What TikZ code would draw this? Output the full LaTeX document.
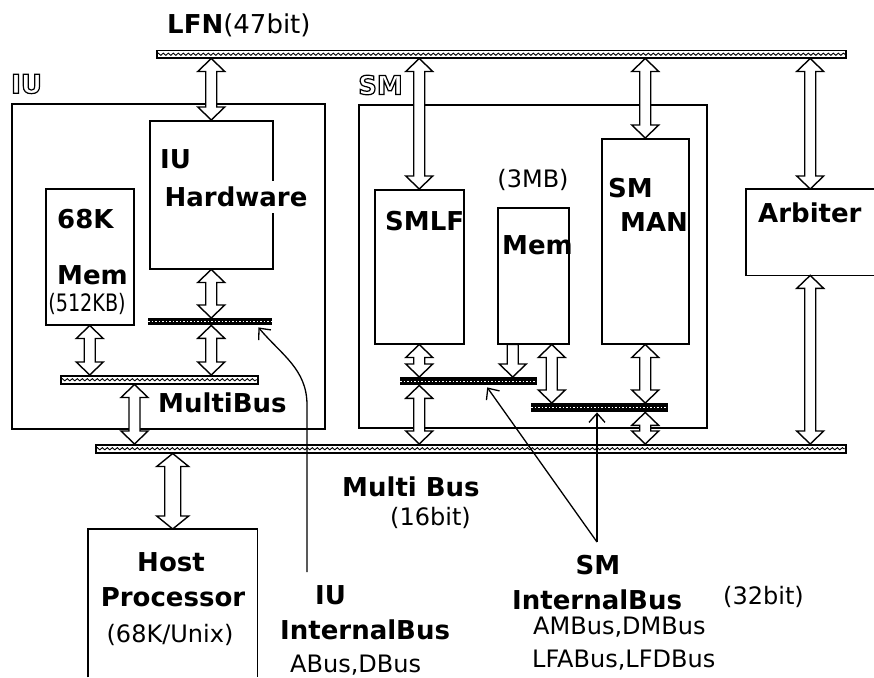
\documentclass[tikz,border=0pt]{standalone}
\usepackage{fontspec}
\setmainfont{DejaVu Sans}
\usetikzlibrary{arrows.meta,calc,decorations.pathmorphing}
\newcommand\outl[1]{\special{pdf:literal direct 1 Tr 1.2 w}#1\special{pdf:literal direct 0 Tr}}
\def\ahw{13.5pt}
\def\asw{5.5pt}
\def\ahl{13pt}
\tikzset{
  box/.style={draw, line width=1.5pt, anchor=north west, inner sep=0pt},
  frame/.style={anchor=north west, inner sep=0pt},
  bus/.style={draw, line width=1.5pt, fill=white, anchor=north west, inner sep=0pt,
    path picture={\draw[line width=0.9pt, decorate, decoration={snake, amplitude=1.1pt, segment length=5pt}]
      (path picture bounding box.west) -- (path picture bounding box.east);}},
  ibus/.style={fill=black, anchor=north west, inner sep=0pt,
    path picture={\draw[white, line width=1.3pt, dash pattern=on 1.3pt off 2.2pt]
      (path picture bounding box.west) -- (path picture bounding box.east);}},
  busarrow/.style={draw, fill=white, line width=1.4pt, to path={
    let \p1=(\tikztostart), \p2=(\tikztotarget) in
    (\x1,\y1) -- (\x1+\ahw,\y1-\ahl) -- (\x1+\asw,\y1-\ahl) -- (\x1+\asw,\y2+\ahl)
    -- (\x1+\ahw,\y2+\ahl) -- (\x1,\y2) -- (\x1-\ahw,\y2+\ahl) -- (\x1-\asw,\y2+\ahl)
    -- (\x1-\asw,\y1-\ahl) -- (\x1-\ahw,\y1-\ahl) -- cycle}},
  downarrow/.style={draw, fill=white, line width=1.4pt, to path={
    let \p1=(\tikztostart), \p2=(\tikztotarget) in
    (\x1-\asw,\y1) -- (\x1+\asw,\y1) -- (\x1+\asw,\y2+\ahl) -- (\x1+\ahw,\y2+\ahl)
    -- (\x1,\y2) -- (\x1-\ahw,\y2+\ahl) -- (\x1-\asw,\y2+\ahl) -- cycle}},
  wide/.style={/utils/exec={\def\ahw{16pt}\def\asw{8pt}}},
  pointer/.style={line width=1.3pt, -{Straight Barb[length=9pt, width=16pt]}},
  btxt/.style={font=\fontsize{26}{30}\selectfont\bfseries, inner sep=0pt},
  ntxt/.style={font=\fontsize{24}{28}\selectfont, inner sep=0pt},
}
\begin{document}
\begin{tikzpicture}[x=1pt, y=-1pt]
  \useasboundingbox (0,0) rectangle (874,677);

  % LFN bus
  \node[bus, minimum width=689pt, minimum height=7pt] (lfn) at (156,50) {};
  \node[btxt, anchor=west] (lfnlbl) at (167,25) {LFN\mdseries(47bit)};

  % IU board
  \node[box, minimum width=313pt, minimum height=325pt] (iu) at (11,103) {};
  \node[btxt, anchor=west] (iulbl) at (11,84) {\outl{IU}};
  \node[box, minimum width=123pt, minimum height=148pt] (hw) at (149,120) {};
  \node[btxt, anchor=west] (hwa) at (160,159) {IU};
  \node[btxt, fill=white, inner xsep=2pt, inner ysep=6pt] (hwb) at (236,197) {Hardware};
  \node[box, minimum width=88pt, minimum height=136pt] (mem68) at (45,188) {};
  \node[btxt, anchor=west] (mema) at (57,219) {68K};
  \node[btxt, anchor=west] (memb) at (57,275) {Mem};
  \node[ntxt] (memc) at (87,304) {\scalebox{0.8}[1]{(512KB)}};
  \node[ibus, minimum width=124pt, minimum height=7pt] (iubus) at (148,318) {};
  \node[bus, minimum width=197pt, minimum height=8pt] (iumb) at (60,375) {};
  \node[btxt, anchor=west] (iumblbl) at (158,403) {MultiBus};

  % SM board
  \node[box, minimum width=348pt, minimum height=323pt] (sm) at (358,104) {};
  \node[btxt, anchor=west] (smlbl) at (358,85) {\outl{SM}};
  \node[box, minimum width=89pt, minimum height=154pt] (smlf) at (374,189) {};
  \node[btxt, anchor=west] (smlftxt) at (385,221) {SMLF};
  \node[box, minimum width=71pt, minimum height=136pt] (mem3) at (497,207) {};
  \node[ntxt] (mem3a) at (533,180) {(3MB)};
  \node[btxt, anchor=west] (mem3b) at (502,245) {Mem};
  \node[box, minimum width=87pt, minimum height=205pt] (sman) at (601,138) {};
  \node[btxt, anchor=west] (smana) at (608,188) {SM};
  \node[btxt, anchor=west] (smanb) at (620,222) {MAN};
  \node[ibus, minimum width=137pt, minimum height=8pt] (smbus1) at (400,377) {};
  \node[ibus, minimum width=137pt, minimum height=9pt] (smbus2) at (531,403) {};

  % Arbiter
  \node[frame, minimum width=128pt, minimum height=86pt] (arb) at (746,189) {};
  \draw[line width=1.5pt] (arb.north east) -- (arb.north west) -- (arb.south west) -- (arb.south east);
  \node[btxt, anchor=west] (arbtxt) at (758,213) {Arbiter};

  % Multi Bus and host
  \node[bus, minimum width=750pt, minimum height=8pt] (mbus) at (95,444) {};
  \node[btxt, anchor=west] (mbuslbl) at (342,487) {Multi Bus};
  \node[ntxt, anchor=west] (mbuswd) at (390,518) {(16bit)};
  \node[frame, minimum width=169pt, minimum height=148pt] (host) at (88,529) {};
  \draw[line width=1.5pt] (host.south west) -- (host.north west) -- (host.north east) -- (host.south east);
  \node[btxt] (hosta) at (171,562) {Host};
  \node[btxt] (hostb) at (173,597) {Processor};
  \node[ntxt] (hostc) at (170,635) {(68K/Unix)};

  % bus arrows
  \draw[busarrow] (lfn.south -| hw.north) to (hw.north);
  \draw[busarrow] (hw.south) to (iubus.north);
  \draw[busarrow] (iubus.south -| hw.south) to (iumb.north);
  \draw[busarrow] (mem68.south) to (iumb.north);
  \draw[busarrow] (iumb.south -| mem68.east) to (mbus.north);
  \draw[busarrow, wide] (mbus.south -| host.north) to (host.north);
  \draw[busarrow] (lfn.south -| smlf.north) to (smlf.north);
  \draw[busarrow] (smlf.south) to (smbus1.north);
  \draw[busarrow] (smbus1.south -| smlf.south) to (mbus.north);
  \draw[downarrow] ([xshift=-20.5pt]mem3.south) to (smbus1.north);
  \draw[busarrow] ([xshift=18.5pt]mem3.south) to (smbus2.north);
  \draw[busarrow] (lfn.south -| sman.north) to (sman.north);
  \draw[busarrow] (sman.south) to (smbus2.north);
  \draw[busarrow] (smbus2.south -| sman.south) to (mbus.north);
  \draw[busarrow] (lfn.south -| arb.north) to (arb.north);
  \draw[busarrow] (arb.south) to (mbus.north);

  % internal bus labels
  \node[btxt, anchor=west] (iuila) at (315,595) {IU};
  \node[btxt, anchor=west] (iuilb) at (280,630) {InternalBus};
  \node[ntxt, anchor=west] (iuilc) at (290,665) {ABus,DBus};
  \node[btxt] (smila) at (598,565) {SM};
  \node[btxt, anchor=west] (smilb) at (512,600) {InternalBus};
  \node[ntxt, anchor=west] (smilw) at (723,597) {(32bit)};
  \node[ntxt, anchor=west] (smilc) at (533,627) {AMBus,DMBus};
  \node[ntxt, anchor=west] (smild) at (532,660) {LFABus,LFDBus};

  % pointers
  \coordinate (iutail) at (307,572);
  \coordinate (smtail) at (597,542);
  \draw[pointer] (iutail) -- (307,405) to[out=90, in=-50] ([xshift=-14pt, yshift=-2pt]iubus.south east);
  \draw[pointer] (smtail) -- ([xshift=18.5pt, yshift=-2pt]smbus1.south);
  \draw[pointer] (smtail) -- (smtail |- smbus2.south);

\end{tikzpicture}
\end{document}
